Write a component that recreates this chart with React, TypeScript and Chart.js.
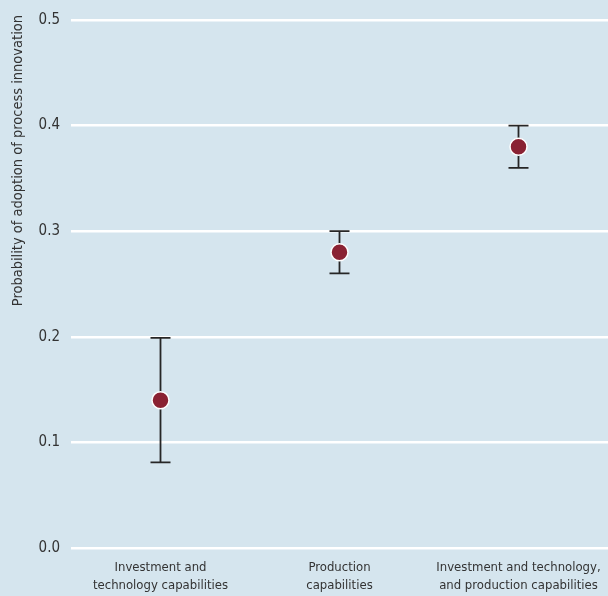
import React, { useEffect, useRef } from "react";
import { Chart, registerables } from "chart.js";

Chart.register(...registerables);

const categories: string[][] = [
  ["Investment and", "technology capabilities"],
  ["Production", "capabilities"],
  ["Investment and technology,", "and production capabilities"],
];
const estimates: number[] = [0.14, 0.28, 0.38];
const lowerBounds: number[] = [0.081, 0.26, 0.36];
const upperBounds: number[] = [0.199, 0.3, 0.4];
const yTicks: number[] = [0, 0.1, 0.2, 0.3, 0.4, 0.5];
const yTitle = "Probability of adoption of process innovation";

const BG = "#d5e5ee";
const FONT = "'DejaVu Sans Condensed', 'Roboto', sans-serif";

const errorBarPlugin = {
  id: "errorBars",
  beforeDatasetsDraw(chart: any) {
    const { ctx, scales } = chart;
    const x = scales.x;
    const y = scales.y;
    ctx.save();
    ctx.strokeStyle = "#262626";
    ctx.lineWidth = 1.8;
    estimates.forEach((_, i) => {
      const px = x.getPixelForValue(i);
      const yl = y.getPixelForValue(lowerBounds[i]);
      const yu = y.getPixelForValue(upperBounds[i]);
      const cap = 10;
      ctx.beginPath();
      ctx.moveTo(px, yl);
      ctx.lineTo(px, yu);
      ctx.moveTo(px - cap, yl);
      ctx.lineTo(px + cap, yl);
      ctx.moveTo(px - cap, yu);
      ctx.lineTo(px + cap, yu);
      ctx.stroke();
    });
    ctx.restore();
  },
};

const yTitlePlugin = {
  id: "yTitleTop",
  afterDraw(chart: any) {
    const { ctx } = chart;
    ctx.save();
    ctx.translate(18.5, 15);
    ctx.rotate(-Math.PI / 2);
    ctx.font = `14.5px ${FONT}`;
    ctx.fillStyle = "#333333";
    ctx.textAlign = "right";
    ctx.textBaseline = "middle";
    ctx.fillText(yTitle, 0, 0);
    ctx.restore();
  },
};

export default function App() {
  const ref = useRef<HTMLCanvasElement>(null);
  useEffect(() => {
    document.body.style.margin = "0";
    document.body.style.background = BG;
    const chart = new Chart(ref.current!, {
      type: "line",
      data: {
        labels: categories as any,
        datasets: [
          {
            data: estimates,
            showLine: false,
            pointRadius: 8.5,
            pointBackgroundColor: "#8a2233",
            pointBorderColor: "#ffffff",
            pointBorderWidth: 1.5,
          },
        ],
      },
      options: {
        animation: false,
        responsive: false,
        layout: { autoPadding: false, padding: { top: 16, right: 0, left: 0, bottom: 0 } },
        plugins: { legend: { display: false }, tooltip: { enabled: false } },
        scales: {
          x: {
            type: "category",
            offset: true,
            grid: { display: false },
            border: { display: false },
            ticks: {
              color: "#333333",
              padding: 3,
              font: { family: FONT, size: 13, lineHeight: 1.38 },
              maxRotation: 0,
              autoSkip: false,
            },
            afterFit(scale: any) {
              scale.height = 48;
              scale.paddingLeft = 0;
              scale.paddingRight = 0;
            },
          },
          y: {
            type: "linear",
            min: 0,
            max: 0.5,
            afterBuildTicks(scale: any) {
              scale.ticks = yTicks.map((v) => ({ value: v }));
            },
            grid: {
              color: "#ffffff",
              lineWidth: 2.5,
              drawTicks: false,
            },
            border: { display: false },
            ticks: {
              color: "#333333",
              padding: 11,
              font: { family: FONT, size: 15 },
              callback: (v: any) => Number(v).toFixed(1),
            },
            title: { display: false },
            afterFit(scale: any) {
              scale.width = 71;
            },
          },
        },
      },
      plugins: [errorBarPlugin, yTitlePlugin],
    });
    return () => chart.destroy();
  }, []);
  return (
    <div style={{ width: 608, height: 596, background: BG }}>
      <canvas ref={ref} width={608} height={596} style={{ display: "block" }} />
    </div>
  );
}
